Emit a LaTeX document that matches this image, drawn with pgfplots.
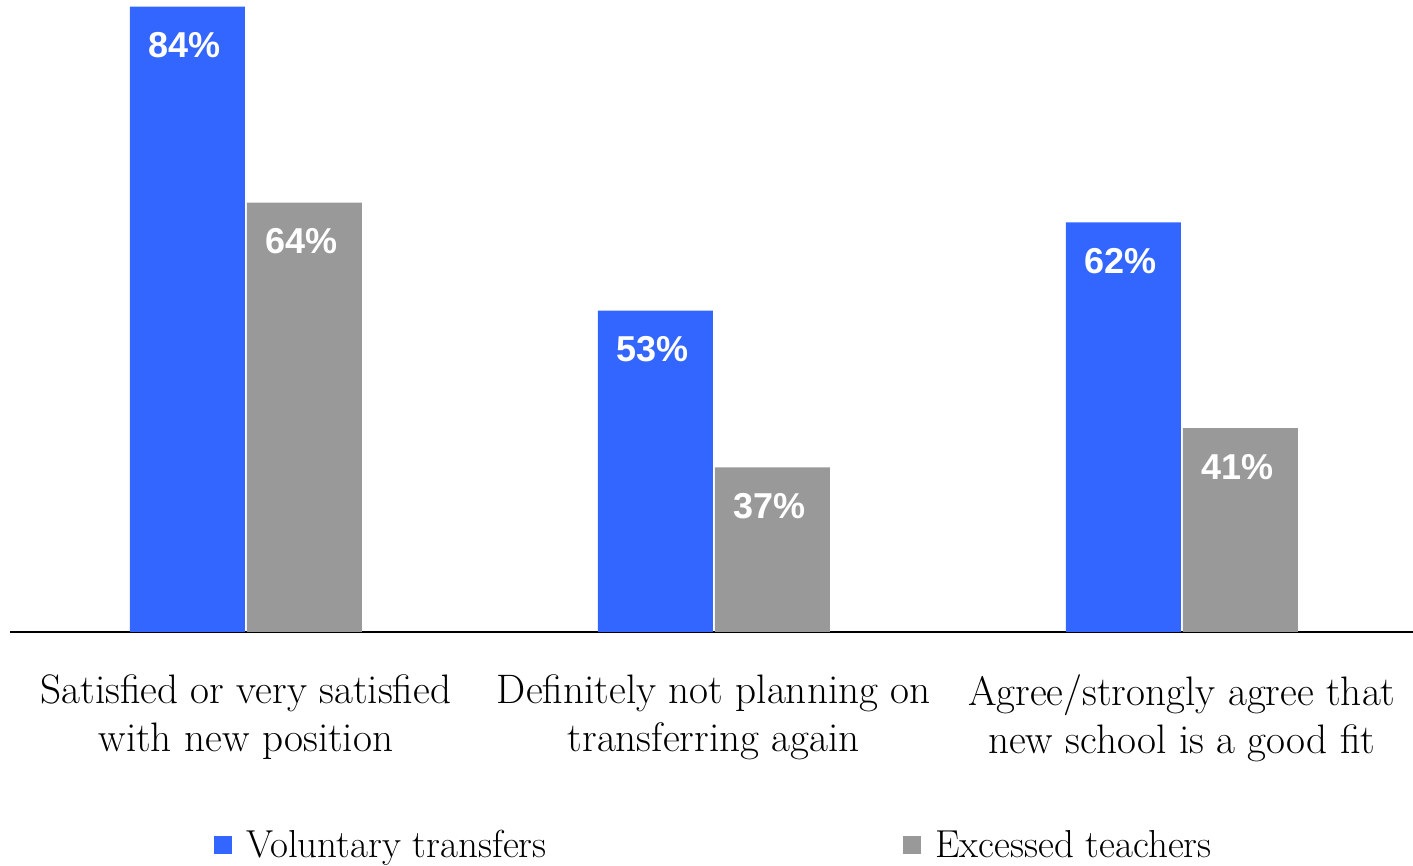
\documentclass[border=0pt]{standalone}
\usepackage{pgfplots}
\pgfplotsset{compat=1.18}
\usepackage{fontspec}
\newfontfamily\labelfont{Liberation Sans}
\definecolor{vblue}{HTML}{3366FF}
\definecolor{egray}{HTML}{999999}
\begin{document}
\begin{tikzpicture}
\begin{axis}[
  width=701.5pt, height=316pt, scale only axis,
  xmin=-0.504, xmax=2.494, ymin=20.2, ymax=84.69,
  ybar=1pt, bar width=57.5pt,
  axis x line=bottom, axis y line=none,
  axis line style={-, black, line width=1pt},
  xtick={0,1,2},
  xticklabels={{Satisfied or very satisfied\\with new position},{Definitely not planning on\\transferring again},{Agree/strongly agree that\\new school is a good fit}},
  major tick length=0pt, ytick=\empty,
  xticklabel style={align=center, font=\fontsize{20.6}{24}\selectfont, inner sep=0pt, anchor=north, yshift=-21pt},
  /pgf/number format/assume math mode=true,
  nodes near coords={\pgfmathprintnumber{\pgfplotspointmeta}\%},
  every node near coord/.append style={anchor=base, yshift=-25.5pt, xshift=-1.5pt, text=white, font=\labelfont\bfseries\fontsize{18}{21}\selectfont},
  legend columns=2,
  legend style={at={(axis description cs:0.141,-0.338)}, anchor=west, draw=none, fill=none,
    font=\fontsize{19.5}{23}\selectfont,
    /tikz/every odd column/.append style={column sep=5pt},
    /tikz/every even column/.append style={column sep=168.5pt}},
]
\addplot[fill=vblue, draw=none, legend image code/.code={\fill[vblue] (0pt,-4pt) rectangle (9pt,5pt);}] coordinates {(0,84) (1,53) (2,62)};
\addlegendentry{\makebox[158pt][l]{Voluntary transfers}}
\addplot[fill=egray, draw=none, legend image code/.code={\fill[egray] (0pt,-4pt) rectangle (9pt,5pt);}] coordinates {(0,64) (1,37) (2,41)};
\addlegendentry{Excessed teachers}
\end{axis}
\pgfresetboundingbox
\path (-5pt,-117pt) rectangle (701.5pt,316pt);
\end{tikzpicture}
\end{document}
